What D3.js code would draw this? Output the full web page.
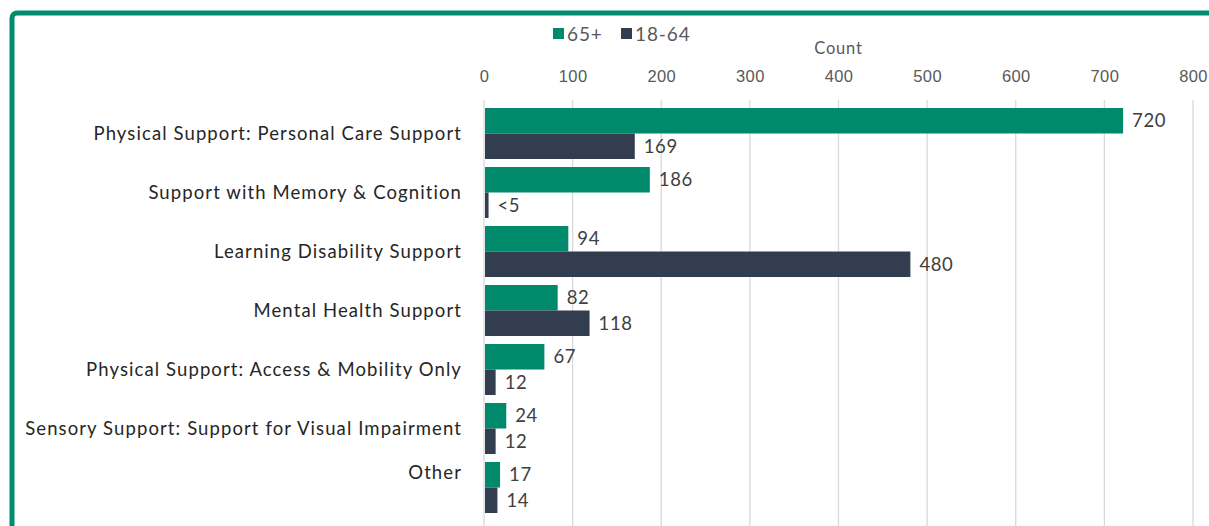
<!DOCTYPE html>
<html>
<head>
  <meta charset="utf-8">
  <title>Support reason by age</title>
  <style>
    body { margin: 0; background: #fff; }
    svg { display: block; font-family: Lato, "Open Sans", sans-serif; }
    .grid line { stroke: #d9d9d9; stroke-width: 1.3px; }
    .axis--x path { display: none; }
    .axis--x line { stroke: #d9d9d9; }
    .axis--x text { fill: #595959; font-size: 16.5px; letter-spacing: 0.4px; }
    .cat { fill: #262626; font-size: 18.5px; letter-spacing: 1.1px; }
    .val { fill: #404040; font-size: 18.5px; letter-spacing: 0.6px; }
  </style>
</head>
<body>
<svg width="1209" height="526"></svg>

<script src="https://cdn.jsdelivr.net/npm/d3@7"></script>
<script>
  var categories = [
    "Physical Support: Personal Care Support",
    "Support with Memory & Cognition",
    "Learning Disability Support",
    "Mental Health Support",
    "Physical Support: Access & Mobility Only",
    "Sensory Support: Support for Visual Impairment",
    "Other"
  ];
  var seriesNames = ["65+", "18-64"];
  var older = [720, 186, 94, 82, 67, 24, 17];
  var younger = [169, 4, 480, 118, 12, 12, 14];
  var youngerLabels = ["169", "<5", "480", "118", "12", "12", "14"];
  var xTicks = [0, 100, 200, 300, 400, 500, 600, 700, 800];
  var colors = ["#00896b", "#323e4f"];

  var svg = d3.select("svg");

  // frame round the chart (cut off at the right and bottom)
  svg.append("rect")
      .attr("x", 12).attr("y", 13)
      .attr("width", 1300).attr("height", 600)
      .attr("rx", 5)
      .attr("fill", "none")
      .attr("stroke", "#008c6e")
      .attr("stroke-width", 5);

  var x = d3.scaleLinear().domain([0, 800]).range([484, 1193]);
  var y = d3.scaleBand().domain(categories).range([104, 517])
      .paddingInner(8 / 59).paddingOuter(4 / 59);
  var ys = d3.scaleBand().domain(seriesNames).range([0, y.bandwidth()]);

  var rows = categories.map(function(c, i) {
    return {
      cat: c,
      values: [
        {key: "65+", value: older[i], label: String(older[i])},
        {key: "18-64", value: younger[i], label: youngerLabels[i]}
      ]
    };
  });

  // gridlines
  svg.append("g")
      .attr("class", "grid")
    .selectAll("line")
    .data(xTicks.slice(1))
    .enter().append("line")
      .attr("x1", function(d) { return x(d); })
      .attr("x2", function(d) { return x(d); })
      .attr("y1", 100).attr("y2", 526);

  // value axis on top
  svg.append("g")
      .attr("class", "axis axis--x")
      .attr("transform", "translate(0,100)")
      .call(d3.axisTop(x).tickValues(xTicks).tickSize(0).tickPadding(18));

  svg.append("text")
      .attr("x", (x(0) + x(800)) / 2)
      .attr("y", 54)
      .attr("text-anchor", "middle")
      .attr("fill", "#595959")
      .style("font-size", "16.5px")
      .style("letter-spacing", "0.8px")
      .text("Count");

  // category axis line
  svg.append("line")
      .attr("x1", x(0)).attr("x2", x(0))
      .attr("y1", 100).attr("y2", 526)
      .attr("stroke", "#d9d9d9")
      .attr("stroke-width", 1.3);

  // category labels
  svg.append("g").selectAll("text")
    .data(rows)
    .enter().append("text")
      .attr("class", "cat")
      .attr("x", 462)
      .attr("y", function(d, i) {
        var c = y(d.cat) + y.bandwidth() / 2;
        return i === rows.length - 1 ? c - 15 : c;
      })
      .attr("dy", "0.35em")
      .attr("text-anchor", "end")
      .text(function(d) { return d.cat; });

  var group = svg.selectAll(".row")
    .data(rows)
    .enter().append("g")
      .attr("class", "row")
      .attr("transform", function(d) { return "translate(0," + y(d.cat) + ")"; });

  group.selectAll("rect")
    .data(function(d) { return d.values; })
    .enter().append("rect")
      .attr("x", x(0) + 1)
      .attr("y", function(d) { return ys(d.key); })
      .attr("width", function(d) { return x(d.value) - x(0); })
      .attr("height", ys.bandwidth())
      .attr("fill", function(d, i) { return colors[i]; });

  group.selectAll(".val")
    .data(function(d) { return d.values; })
    .enter().append("text")
      .attr("class", "val")
      .attr("x", function(d) { return x(d.value) + 10; })
      .attr("y", function(d) { return ys(d.key) + ys.bandwidth() / 2; })
      .attr("dy", "0.35em")
      .text(function(d) { return d.label; });

  // legend
  var legend = svg.append("g").attr("transform", "translate(553,28)");
  var lx = [0, 68];
  seriesNames.forEach(function(s, i) {
    legend.append("rect")
        .attr("x", lx[i]).attr("y", 0)
        .attr("width", 11).attr("height", 11)
        .attr("fill", colors[i]);
    legend.append("text")
        .attr("x", lx[i] + 14).attr("y", 6)
        .attr("dy", "0.35em")
        .attr("fill", "#595959")
        .style("font-size", "19px")
        .style("letter-spacing", "0.9px")
        .text(s);
  });
</script>
</body>
</html>
